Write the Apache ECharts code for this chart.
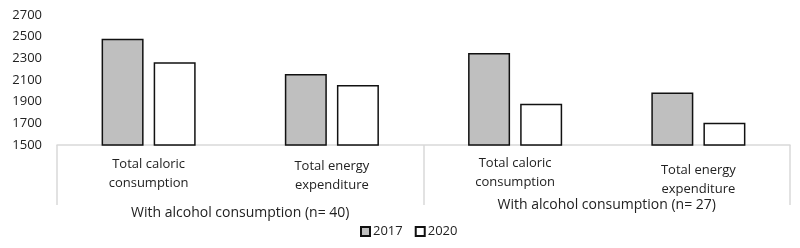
<!DOCTYPE html>
<html><head><meta charset="utf-8">
<script src="https://cdn.jsdelivr.net/npm/echarts@6/dist/echarts.min.js"></script>
<style>html,body{margin:0;padding:0;background:#fff}#c{width:800px;height:248px}</style>
</head><body><div id="c"></div>
<script>
var categories = ['Total caloric\nconsumption', 'Total energy\nexpenditure', 'Total caloric\nconsumption', 'Total energy\nexpenditure'];
var groups = ['With alcohol consumption (n= 40)', 'With alcohol consumption (n= 27)'];
var seriesNames = ['2017', '2020'];
var values2017 = [2480, 2155, 2350, 1985];
var values2020 = [2265, 2055, 1880, 1705];
var yTicks = [1500, 1700, 1900, 2100, 2300, 2500, 2700];

var FONT = 'Open Sans';
var chart = echarts.init(document.getElementById('c'));
var catPad = [[0,0,0,0],[3,0,0,0],[-3,0,0,0],[12,0,0,0]];
var catRich = {};
catPad.forEach(function(p, i){ catRich['c'+i] = {fontFamily: FONT, fontSize: 13, lineHeight: 19, color: '#222', padding: p, align: 'center'}; });
var grpRich = {g0: {fontFamily: FONT, fontSize: 14, color: '#222', padding: [8,0,0,0]}, g1: {fontFamily: FONT, fontSize: 14, color: '#222', padding: [0,0,0,0]}};

chart.setOption({
  animation: false,
  textStyle: {fontFamily: FONT},
  grid: {left: 57, right: 10, top: 15, bottom: 103, containLabel: false},
  legend: {
    data: seriesNames, left: 355, top: 220, icon: 'rect', itemWidth: 9, itemHeight: 9, itemGap: 12,
    textStyle: {fontFamily: FONT, fontSize: 13, color: '#222', padding: [0,0,0,-2]}
  },
  xAxis: [{
    type: 'category', data: categories, position: 'bottom',
    axisLine: {lineStyle: {color: '#d9d9d9', width: 1.5}},
    axisTick: {show: false},
    axisLabel: {margin: 10, interval: 0,
      formatter: function(v, i){ return v.split('\n').map(function(s){ return '{c'+i+'|'+s+'}'; }).join('\n'); },
      rich: catRich}
  }, {
    type: 'category', data: groups, position: 'bottom', offset: 0,
    axisLine: {show: false},
    axisTick: {show: true, length: 60, lineStyle: {color: '#d9d9d9', width: 1.5}},
    axisLabel: {margin: 53, interval: 0,
      formatter: function(v, i){ return '{g'+i+'|'+v+'}'; }, rich: grpRich}
  }],
  yAxis: {
    type: 'value', min: 1500, max: 2700, interval: 200,
    splitLine: {show: false}, axisLine: {show: false}, axisTick: {show: false},
    axisLabel: {margin: 15, fontFamily: FONT, fontSize: 13, color: '#222',
      customValues: yTicks, formatter: function(v){ return String(v); }}
  },
  series: [{
    name: seriesNames[0], type: 'bar', xAxisIndex: 0, data: values2017, barWidth: 42, barGap: '24%',
    itemStyle: {color: '#bfbfbf', borderColor: '#111', borderWidth: 1.5}
  }, {
    name: seriesNames[1], type: 'bar', xAxisIndex: 0, data: values2020, barWidth: 42,
    itemStyle: {color: '#ffffff', borderColor: '#111', borderWidth: 1.5}
  }]
});
</script></body></html>
